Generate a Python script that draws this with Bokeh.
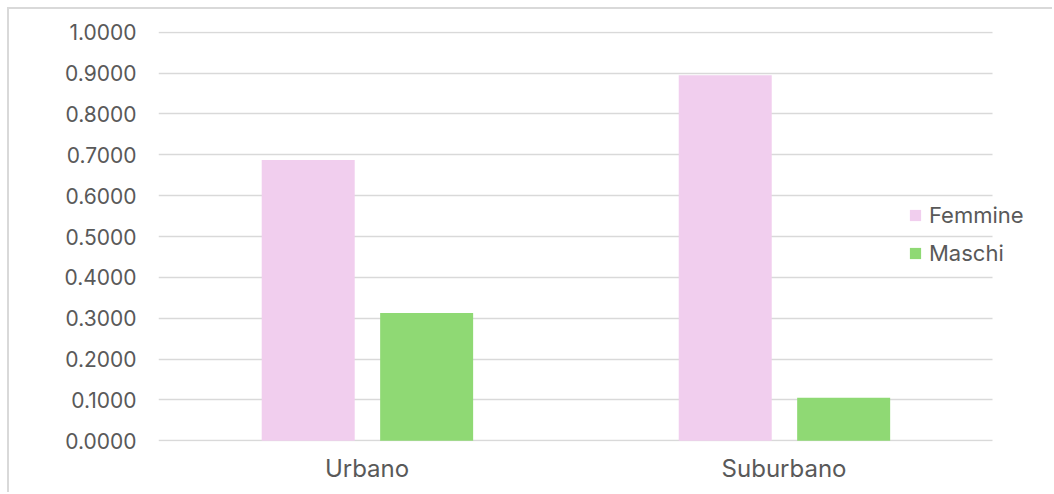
from bokeh.plotting import figure
from bokeh.models import ColumnDataSource, Range1d, Legend, LegendItem, NumeralTickFormatter, FixedTicker
from bokeh.embed import file_html
from bokeh.resources import INLINE

categories = ["Urbano", "Suburbano"]
femmine = [0.6875, 0.8947]
maschi = [0.3125, 0.1053]
y_ticks = [0.0, 0.1, 0.2, 0.3, 0.4, 0.5, 0.6, 0.7, 0.8, 0.9, 1.0]

FONT = "Inter"
TEXT = "#595959"
GRID = "#d9d9d9"
BAR_W = 0.223

# category slots are one unit wide; the extra room on the right holds the legend
centers = [i + 0.5 for i in range(len(categories))]
source = ColumnDataSource(data=dict(
    cat=categories,
    x_f=[c - 0.141 for c in centers],
    x_m=[c + 0.143 for c in centers],
    femmine=femmine, maschi=maschi,
))

p = figure(
    x_range=Range1d(0, 2.139),
    y_range=Range1d(-0.002, 1.002),
    width=1045, height=485,
    output_backend="svg", toolbar_location=None,
    min_border_left=149, min_border_right=4, min_border_top=22, min_border_bottom=53,
    styles={"margin-left": "7px", "margin-top": "7px",
            "border-left": "2px solid #d9d9d9", "border-top": "2px solid #d9d9d9"},
)
p.outline_line_color = None
p.background_fill_color = "white"
p.border_fill_color = "white"

r_f = p.vbar(x="x_f", top="femmine", width=BAR_W, source=source,
             fill_color="#F1CEEE", line_color=None)
r_m = p.vbar(x="x_m", top="maschi", width=BAR_W, source=source,
             fill_color="#8FD974", line_color=None)

p.xgrid.grid_line_color = None
p.ygrid.grid_line_color = GRID
p.ygrid.grid_line_width = 1.5
p.ygrid.cross_bounds = (0, len(categories))

p.yaxis.ticker = FixedTicker(ticks=y_ticks)
p.yaxis.formatter = NumeralTickFormatter(format="0.0000")
p.xaxis.ticker = FixedTicker(ticks=centers)
p.xaxis.major_label_overrides = {c: name for c, name in zip(centers, categories)}

for ax in (p.xaxis, p.yaxis):
    ax.axis_line_color = None
    ax.major_tick_line_color = None
    ax.minor_tick_line_color = None
    ax.major_label_text_color = TEXT
    ax.major_label_text_font = FONT
p.yaxis.major_label_text_font_size = "21px"
p.yaxis.major_label_standoff = 16
p.xaxis.major_label_text_font_size = "24px"
p.xaxis.major_label_standoff = 6

legend = Legend(
    items=[LegendItem(label="Femmine", renderers=[r_f]),
           LegendItem(label="Maschi", renderers=[r_m])],
    location=(750, 175),
    background_fill_alpha=0, border_line_color=None,
    glyph_width=14, glyph_height=14, label_standoff=7, label_height=22,
    label_text_font=FONT, label_text_font_size="22px", label_text_color=TEXT,
    spacing=12, padding=0, margin=0,
)
p.add_layout(legend, "center")

open("out.html", "w").write(file_html(p, INLINE))
